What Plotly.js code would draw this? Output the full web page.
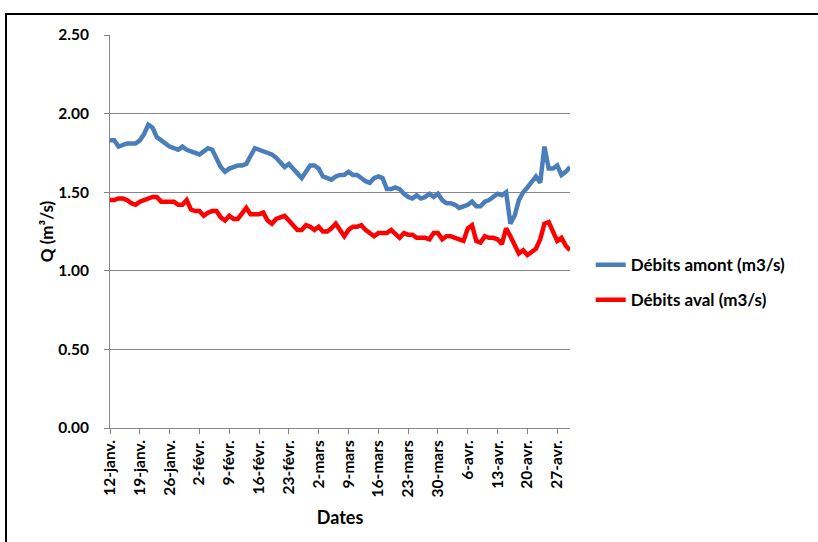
<!DOCTYPE html>
<html>
<head>
<meta charset="utf-8">
<script src="https://cdn.plot.ly/plotly-3.0.1.min.js"></script>
<style>
  html, body { margin: 0; padding: 0; background: #fff; overflow: hidden; }
  #chart { width: 818px; height: 542px; position: absolute; left: 0; top: 0; }
  #frame { position: absolute; left: 5px; top: 13px; width: 900px; height: 700px;
           border: 2px solid #000; pointer-events: none; }
</style>
</head>
<body>
<div id="chart"></div>
<div id="frame"></div>
<script>
// ---- data ----
const startDate = '2011-01-12';
const tickDates = ['2011-01-12','2011-01-19','2011-01-26','2011-02-02','2011-02-09','2011-02-16','2011-02-23',
  '2011-03-02','2011-03-09','2011-03-16','2011-03-23','2011-03-30','2011-04-06','2011-04-13','2011-04-20','2011-04-27'];
const tickLabels = ['12-janv.','19-janv.','26-janv.','2-févr.','9-févr.','16-févr.','23-févr.',
  '2-mars','9-mars','16-mars','23-mars','30-mars','6-avr.','13-avr.','20-avr.','27-avr.'];

const debitsAmont = [
  1.83,1.83,1.79,1.80,1.81,1.81,1.81,1.83,1.87,1.93,
  1.91,1.85,1.83,1.81,1.79,1.78,1.77,1.79,1.77,1.76,
  1.75,1.74,1.76,1.78,1.77,1.72,1.66,1.63,1.65,1.66,
  1.67,1.67,1.68,1.73,1.78,1.77,1.76,1.75,1.74,1.72,
  1.69,1.66,1.68,1.65,1.61,1.59,1.63,1.67,1.67,1.65,
  1.60,1.59,1.58,1.60,1.61,1.61,1.63,1.61,1.61,1.59,
  1.57,1.56,1.59,1.60,1.59,1.52,1.52,1.53,1.52,1.49,
  1.47,1.46,1.48,1.46,1.47,1.49,1.47,1.49,1.45,1.43,
  1.43,1.42,1.40,1.41,1.42,1.44,1.41,1.41,1.44,1.45,
  1.47,1.49,1.48,1.50,1.30,1.35,1.45,1.50,1.53,1.57,
  1.60,1.56,1.79,1.65,1.65,1.67,1.61,1.63,1.66
];
const debitsAval = [
  1.45,1.45,1.46,1.46,1.45,1.43,1.42,1.44,1.45,1.46,
  1.47,1.47,1.44,1.44,1.44,1.44,1.42,1.42,1.45,1.39,
  1.38,1.38,1.35,1.37,1.38,1.38,1.34,1.32,1.35,1.33,
  1.33,1.36,1.40,1.36,1.36,1.36,1.37,1.32,1.30,1.33,
  1.34,1.35,1.32,1.29,1.26,1.26,1.29,1.28,1.26,1.28,
  1.25,1.25,1.27,1.30,1.26,1.22,1.26,1.28,1.28,1.29,
  1.26,1.24,1.22,1.24,1.24,1.24,1.26,1.23,1.21,1.24,
  1.23,1.23,1.21,1.21,1.21,1.20,1.24,1.24,1.20,1.22,
  1.22,1.21,1.20,1.19,1.27,1.29,1.19,1.18,1.22,1.21,
  1.21,1.20,1.17,1.27,1.22,1.16,1.11,1.13,1.10,1.12,
  1.14,1.20,1.30,1.31,1.25,1.19,1.21,1.16,1.13
];

// consecutive daily dates for the series
function dayList(start, n) {
  const out = [];
  const d0 = new Date(start + 'T00:00:00Z');
  for (let i = 0; i < n; i++) {
    const d = new Date(d0.getTime() + i * 86400000);
    out.push(d.toISOString().slice(0, 10));
  }
  return out;
}
const dates = dayList(startDate, debitsAmont.length);

const FONT = 'Lato, "Open Sans", sans-serif';

const traces = [
  { x: dates, y: debitsAmont, type: 'scatter', mode: 'lines', name: 'Débits amont (m3/s)',
    line: { color: '#4A7EBB', width: 4.5 }, legendgroup: 'a' },
  { x: dates, y: debitsAval, type: 'scatter', mode: 'lines', name: 'Débits aval (m3/s)',
    line: { color: '#FF0000', width: 4.5 }, legendgroup: 'b' }
];

const layout = {
  width: 818, height: 542,
  margin: { l: 110, r: 248, t: 35, b: 114 },
  paper_bgcolor: '#fff', plot_bgcolor: '#fff',
  font: { family: FONT, color: '#000', size: 15 },
  showlegend: true,
  legend: {
    x: 1.045, y: 0.37, xanchor: 'left', yanchor: 'middle',
    font: { family: FONT, size: 17, color: '#000', weight: 'bold' },
    tracegroupgap: 10, traceorder: 'grouped', itemwidth: 30,
    bgcolor: 'rgba(0,0,0,0)'
  },
  xaxis: {
    type: 'date',
    range: ['2011-01-12', '2011-04-30'],
    tickmode: 'array', tickvals: tickDates, ticktext: tickLabels,
    tickangle: -90,
    ticks: 'outside', ticklen: 5, tickcolor: '#868686',
    showgrid: false, zeroline: false,
    showline: true, linecolor: '#868686', linewidth: 1,
    tickfont: { family: FONT, size: 15.5, color: '#000', weight: 'bold' },
    title: { text: 'Dates', font: { family: FONT, size: 18, color: '#000', weight: 'bold' }, standoff: 15 }
  },
  yaxis: {
    range: [0, 2.5], dtick: 0.5, tick0: 0, tickformat: '.2f',
    ticks: 'outside', ticklen: 5, tickcolor: '#868686',
    showgrid: true, gridcolor: '#868686', gridwidth: 1,
    zeroline: false,
    showline: true, linecolor: '#868686', linewidth: 1,
    ticklabelstandoff: 12,
    tickfont: { family: FONT, size: 15.5, color: '#000', weight: 'bold' },
    title: { text: 'Q (m³/s)', font: { family: FONT, size: 17, color: '#000', weight: 'bold' }, standoff: 0 }
  }
};

Plotly.newPlot('chart', traces, layout, { displayModeBar: false, staticPlot: true });
</script>
</body>
</html>
